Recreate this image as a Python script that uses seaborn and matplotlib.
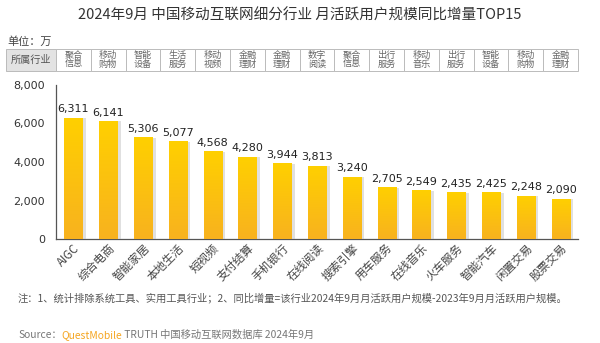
import numpy as np
import pandas as pd
import matplotlib
matplotlib.use("Agg")
import matplotlib.pyplot as plt
import matplotlib.patheffects as pe
from matplotlib.patches import Rectangle
from matplotlib.colors import LinearSegmentedColormap
import seaborn as sns

categories = ['AIGC', '综合电商', '智能家居', '本地生活', '短视频', '支付结算', '手机银行', '在线阅读',
              '搜索引擎', '用车服务', '在线音乐', '火车服务', '智能汽车', '闲置交易', '股票交易']
values = [6311, 6141, 5306, 5077, 4568, 4280, 3944, 3813, 3240, 2705, 2549, 2435, 2425, 2248, 2090]
industries = ['聚合\n信息', '移动\n购物', '智能\n设备', '生活\n服务', '移动\n视频', '金融\n理财', '金融\n理财',
              '数字\n阅读', '聚合\n信息', '出行\n服务', '移动\n音乐', '出行\n服务', '智能\n设备', '移动\n购物',
              '金融\n理财']
yticks = [0, 2000, 4000, 6000, 8000]

title = '2024年9月 中国移动互联网细分行业 月活跃用户规模同比增量TOP15'
unit = '单位：万'
header = '所属行业'
note = '注：1、统计排除系统工具、实用工具行业；2、同比增量=该行业2024年9月月活跃用户规模-2023年9月月活跃用户规模。'

sns.set_theme(style='white')
plt.rcParams['font.family'] = ['Noto Sans CJK SC', 'DejaVu Sans']

W, H = 600, 343
fig = plt.figure(figsize=(6, 3.43), dpi=100)
fig.patch.set_facecolor('white')
ax = fig.add_axes([56 / W, 1 - 239 / H, (578 - 56) / W, (239 - 85) / H])

df = pd.DataFrame({'cat': categories, 'val': values})
sns.barplot(data=df, x='cat', y='val', ax=ax, color='#FCC20E', width=0.52,
            saturation=1, edgecolor='none', zorder=3)

cmap = LinearSegmentedColormap.from_list('g', ['#F8B21F', '#FFD000'])
grad = np.linspace(0, 1, 256).reshape(-1, 1)
for p in ax.patches:
    p.set_path_effects([pe.SimplePatchShadow(offset=(2.5, -0.5), shadow_rgbFace='#bbbbbb', alpha=0.45),
                        pe.Normal()])
    x0, y0 = p.get_x(), p.get_y()
    w, h = p.get_width(), p.get_height()
    im = ax.imshow(grad, cmap=cmap, aspect='auto', origin='lower',
                   extent=[x0, x0 + w, y0, y0 + h], zorder=4)
    im.set_clip_path(p)

ax.set_xlim(-0.5, len(categories) - 0.5)
ax.set_ylim(0, 8000)
ax.set_yticks(yticks)
ax.set_yticklabels([f'{v:,}' for v in yticks], fontsize=8, color='#333333',
                   family=['DejaVu Sans'])
ax.tick_params(axis='y', length=0, pad=8)
ax.tick_params(axis='x', length=0, pad=2)
ax.set_xticks(range(len(categories)))
ax.set_xticklabels(categories, rotation=45, ha='right', va='top', rotation_mode='anchor',
                   fontsize=8.3, color='#444444')
ax.set_xlabel('')
ax.set_ylabel('')
for s in ['top', 'right']:
    ax.spines[s].set_visible(False)
for s in ['left', 'bottom']:
    ax.spines[s].set_color('#555555')
    ax.spines[s].set_linewidth(0.9)

for i, v in enumerate(values):
    ax.text(i, v + 170, f'{v:,}', ha='center', va='bottom', fontsize=8, color='#222222',
            family=['DejaVu Sans'], zorder=5)

# table of industries (x in data units, y in axes units)
tr = ax.get_xaxis_transform()
px_per_unit = (578 - 56) / len(categories)
ytop = 1 + (85 - 49) / (239 - 85)
ybot = 1 + (85 - 71) / (239 - 85)
hx0 = -0.5 - (56 - 6) / px_per_unit
ax.add_patch(Rectangle((hx0, ybot), -0.5 - hx0, ytop - ybot, transform=tr, clip_on=False,
                       facecolor='#E3E3E3', edgecolor='#BBBBBB', linewidth=0.7))
ax.text((hx0 - 0.5) / 2, (ytop + ybot) / 2, header, transform=tr, ha='center', va='center',
        fontsize=7.3, color='#555555', clip_on=False)
for i, ind in enumerate(industries):
    ax.add_patch(Rectangle((i - 0.5, ybot), 1, ytop - ybot, transform=tr, clip_on=False,
                           facecolor='white', edgecolor='#BBBBBB', linewidth=0.7))
    ax.text(i, (ytop + ybot) / 2, ind, transform=tr, ha='center', va='center', fontsize=6.6,
            color='#666666', linespacing=1.0, clip_on=False)

fig.text(0.5, 1 - 16 / H, title, ha='center', va='center', fontsize=10.5, color='#333333')
fig.text(7 / W, 1 - 42 / H, unit, ha='left', va='center', fontsize=8, color='#444444')
fig.text(18 / W, 1 - 298 / H, note, ha='left', va='center', fontsize=7.4, color='#555555')

src = fig.text(18 / W, 1 - 335 / H, 'Source：', ha='left', va='center', fontsize=7.4, color='#777777')
fig.canvas.draw()
r = fig.canvas.get_renderer()
bb = src.get_window_extent(r)
qm = fig.text(bb.x1 / W, 1 - 335 / H, 'QuestMobile', ha='left', va='center', fontsize=7.4, color='#F5A623')
bb2 = qm.get_window_extent(r)
fig.text(bb2.x1 / W, 1 - 335 / H, ' TRUTH 中国移动互联网数据库 2024年9月', ha='left', va='center',
         fontsize=7.4, color='#777777')

fig.savefig('out.png', dpi=100)
